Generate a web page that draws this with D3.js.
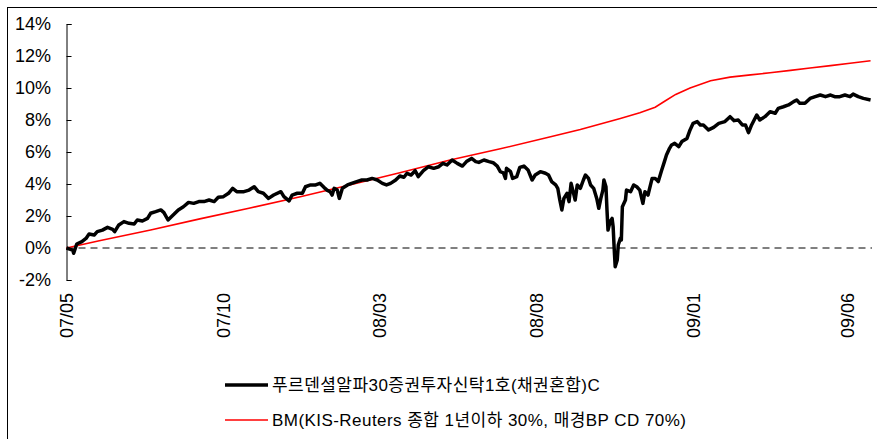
<!DOCTYPE html>
<html>
<head>
<meta charset="utf-8">
<script src="https://cdn.jsdelivr.net/npm/d3@7"></script>
<style>
  body { margin: 0; background: #fff; }
  text { font-family: "Liberation Sans", Arial, "Noto Sans CJK KR", sans-serif; fill: #000; }
</style>
</head>
<body>
<div class="boundary"></div>
<script>
// fund (black) - cumulative return %
var fundDates = ["2007-05-01","2007-05-07","2007-05-08","2007-05-11","2007-05-16","2007-05-20","2007-05-23","2007-05-28","2007-05-31",
"2007-06-05","2007-06-10","2007-06-15","2007-06-17","2007-06-21","2007-06-26","2007-07-01","2007-07-06","2007-07-09","2007-07-14",
"2007-07-19","2007-07-22","2007-07-27","2007-08-01","2007-08-04","2007-08-08","2007-08-14","2007-08-18","2007-08-23","2007-08-28",
"2007-09-02","2007-09-07","2007-09-12","2007-09-17","2007-09-22","2007-09-26","2007-10-01","2007-10-06","2007-10-10","2007-10-14",
"2007-10-21","2007-10-26","2007-10-31","2007-11-04","2007-11-09","2007-11-14","2007-11-19","2007-11-26","2007-11-29","2007-12-04",
"2007-12-07","2007-12-12","2007-12-17","2007-12-20","2007-12-25","2007-12-30","2008-01-03","2008-01-07","2008-01-10","2008-01-13",
"2008-01-15","2008-01-17","2008-01-20","2008-01-22","2008-01-25","2008-01-30","2008-02-03","2008-02-08","2008-02-13","2008-02-18",
"2008-02-23","2008-02-28","2008-03-04","2008-03-08","2008-03-12","2008-03-17","2008-03-21","2008-03-25","2008-03-28","2008-04-01",
"2008-04-05","2008-04-08","2008-04-13","2008-04-18","2008-04-23","2008-04-28","2008-05-02","2008-05-06","2008-05-11","2008-05-16",
"2008-05-21","2008-05-25","2008-05-30","2008-06-03","2008-06-06","2008-06-11","2008-06-16","2008-06-20","2008-06-24","2008-06-27",
"2008-06-30","2008-07-02","2008-07-03","2008-07-07","2008-07-09","2008-07-13","2008-07-16","2008-07-20","2008-07-24","2008-07-28",
"2008-07-31","2008-08-05","2008-08-10","2008-08-13","2008-08-16","2008-08-20","2008-08-22","2008-08-24","2008-08-26","2008-08-28",
"2008-08-31","2008-09-02","2008-09-04","2008-09-06","2008-09-08","2008-09-10","2008-09-13","2008-09-16","2008-09-18","2008-09-21",
"2008-09-23","2008-09-26","2008-09-29","2008-10-01","2008-10-03","2008-10-05","2008-10-06","2008-10-08","2008-10-09","2008-10-10",
"2008-10-12","2008-10-14","2008-10-15","2008-10-16","2008-10-17","2008-10-19","2008-10-20","2008-10-22","2008-10-23","2008-10-24",
"2008-10-27","2008-10-28","2008-11-01","2008-11-04","2008-11-07","2008-11-10","2008-11-13","2008-11-15","2008-11-18","2008-11-22",
"2008-11-25","2008-11-28","2008-12-01","2008-12-04","2008-12-06","2008-12-09","2008-12-11","2008-12-14","2008-12-18","2008-12-21",
"2008-12-26","2008-12-29","2009-01-01","2009-01-05","2009-01-08","2009-01-11","2009-01-16","2009-01-21","2009-01-26","2009-02-01",
"2009-02-06","2009-02-10","2009-02-14","2009-02-18","2009-02-21","2009-02-24","2009-02-27","2009-03-04","2009-03-07","2009-03-12",
"2009-03-17","2009-03-22","2009-03-25","2009-03-30","2009-04-04","2009-04-09","2009-04-12","2009-04-15","2009-04-20","2009-04-25",
"2009-04-30","2009-05-05","2009-05-10","2009-05-15","2009-05-19","2009-05-24","2009-05-29","2009-06-03","2009-06-06","2009-06-11",
"2009-06-16","2009-06-23"];
var fundValues = [0.00,-0.13,-0.33,0.25,0.40,0.60,0.88,0.81,1.02,
1.12,1.29,1.17,1.02,1.44,1.65,1.54,1.50,1.75,1.69,
1.85,2.17,2.27,2.38,2.21,1.75,2.12,2.38,2.58,2.85,
2.79,2.90,2.90,3.00,2.90,3.17,3.21,3.42,3.73,3.52,
3.52,3.62,3.83,3.52,3.42,3.10,3.31,3.52,3.21,2.94,
3.31,3.42,3.42,3.83,3.94,3.94,4.04,3.79,3.62,3.52,
3.31,3.73,3.62,3.10,3.73,3.94,4.04,4.15,4.25,4.25,
4.35,4.25,4.04,3.94,4.04,4.25,4.50,4.42,4.67,4.56,
4.83,4.46,4.83,5.08,4.98,5.08,5.29,5.19,5.50,5.29,
5.12,5.40,5.60,5.40,5.35,5.50,5.40,5.33,5.12,4.77,
4.70,4.35,4.98,4.77,4.35,4.46,5.04,5.12,4.88,4.25,
4.56,4.77,4.67,4.56,4.15,3.94,3.73,3.00,2.38,3.10,
3.42,2.90,4.04,3.52,3.00,3.94,3.73,4.25,4.56,4.35,
3.94,3.73,3.10,2.48,3.10,3.62,4.25,3.83,2.38,1.12,
1.65,1.85,1.33,0.00,-1.17,-0.75,0.19,0.60,0.50,2.58,
3.00,3.62,3.52,3.94,3.83,3.62,2.79,3.52,3.31,4.35,
4.35,4.15,4.80,5.40,5.81,6.23,6.44,6.54,6.33,6.65,
6.85,7.38,7.79,7.90,7.69,7.69,7.38,7.54,7.79,7.90,
8.21,7.96,8.00,7.69,7.69,7.21,7.69,8.31,8.00,8.21,
8.52,8.42,8.73,8.83,8.94,9.15,9.25,9.04,9.04,9.35,
9.46,9.56,9.46,9.56,9.46,9.46,9.56,9.46,9.62,9.46,
9.35,9.25];

// benchmark (red)
var bmDates = ["2007-05-01","2007-06-02","2007-07-22","2007-09-08","2007-10-27","2007-12-15","2008-02-02","2008-03-21","2008-05-09",
"2008-06-27","2008-08-15","2008-09-13","2008-10-22","2008-11-10","2008-11-25","2008-12-05","2008-12-15","2008-12-29","2009-01-18",
"2009-02-06","2009-02-26","2009-03-17","2009-04-06","2009-04-25","2009-05-15","2009-06-03","2009-06-23"];
var bmValues = [0.00,0.45,1.13,1.82,2.50,3.20,3.95,4.70,5.50,
6.20,6.95,7.40,8.10,8.45,8.80,9.20,9.60,10.00,10.45,
10.68,10.82,10.95,11.10,11.25,11.40,11.55,11.70];

var xTicks = ["2007-05-01","2007-10-01","2008-03-01","2008-08-01","2009-01-01","2009-06-01"];
var yTicks = [-2,0,2,4,6,8,10,12,14];
var legendNames = ["푸르덴셜알파30증권투자신탁1호(채권혼합)C","BM(KIS-Reuters 종합 1년이하 30%, 매경BP CD 70%)"];

var width = 877, height = 439;
var parse = d3.timeParse("%Y-%m-%d");
var fmt = d3.timeFormat("%y/%m");
var svg = d3.select(".boundary").append("svg")
            .attr("width", width).attr("height", height);

svg.append("rect").attr("x", 7.5).attr("y", 7.5).attr("width", 880).attr("height", 450)
   .attr("fill", "none").attr("stroke", "#000").attr("stroke-width", 1);

var x = d3.scaleTime().domain([parse("2007-05-01"), parse("2009-06-01")]).range([66.5, 848]);
var y = d3.scaleLinear().domain([-2, 14]).range([280, 24]);

// y axis
var yAxis = d3.axisRight(y).tickValues(yTicks).tickSize(5).tickFormat("");
var ya = svg.append("g").attr("transform", "translate(66.5,0)").call(yAxis);
ya.select(".domain").attr("stroke", "#000");
ya.selectAll(".tick line").attr("stroke", "#000");
svg.append("g").selectAll("text").data(yTicks).enter().append("text")
   .attr("x", 51).attr("y", function(d){ return y(d); }).attr("dy", "0.36em")
   .attr("text-anchor", "end").style("font-size", "18px")
   .text(function(d){ return d + "%"; });

// x labels (rotated)
svg.append("g").selectAll("text").data(xTicks).enter().append("text")
   .attr("transform", function(d){ return "translate(" + x(parse(d)) + ",293) rotate(-90)"; })
   .attr("dy", "0.36em").attr("text-anchor", "end").style("font-size", "18px")
   .text(function(d){ return fmt(parse(d)); });

// zero line
svg.append("line").attr("x1", 66.5).attr("x2", 872).attr("y1", y(0)).attr("y2", y(0))
   .attr("stroke", "#000").attr("stroke-width", 1).attr("stroke-dasharray", "7,5");

var line = d3.line().x(function(d){ return x(d[0]); }).y(function(d){ return y(d[1]); });
var bm = bmDates.map(function(d, i){ return [parse(d), bmValues[i]]; });
var fund = fundDates.map(function(d, i){ return [parse(d), fundValues[i]]; });

svg.append("path").attr("d", line(bm)).attr("fill", "none")
   .attr("stroke", "#ff0000").attr("stroke-width", 1.6);
svg.append("path").attr("d", line(fund)).attr("fill", "none")
   .attr("stroke", "#000").attr("stroke-width", 3.5).attr("stroke-linejoin", "round");

// legend
var legendColors = ["#000", "#ff0000"];
var legendWidths = [3.5, 1.6];
var legend = svg.append("g").selectAll("g").data(legendNames).enter().append("g")
   .attr("transform", function(d, i){ return "translate(0," + (385 + i * 35) + ")"; });
legend.append("line").attr("x1", 225).attr("x2", 268).attr("y1", 0).attr("y2", 0)
   .attr("stroke", function(d, i){ return legendColors[i]; })
   .attr("stroke-width", function(d, i){ return legendWidths[i]; });
legend.append("text").attr("x", 272).attr("dy", "0.36em").style("font-size", "17px")
   .style("letter-spacing", "0.45px")
   .text(function(d){ return d; });
</script>
</body>
</html>
